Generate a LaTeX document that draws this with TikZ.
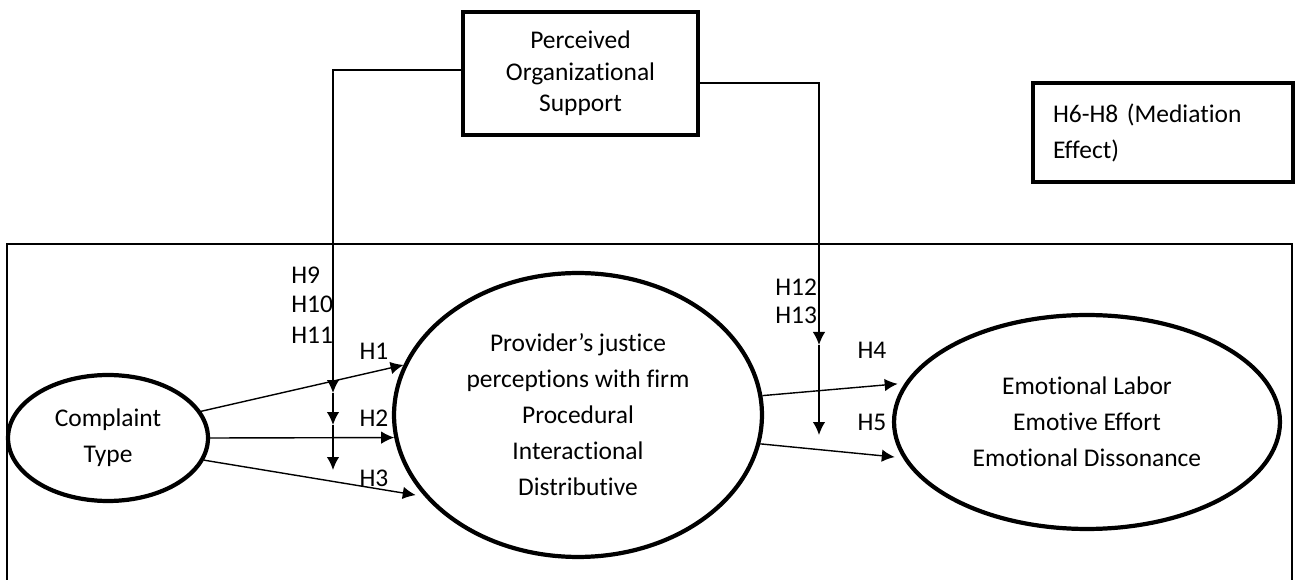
\documentclass[tikz,border=0pt]{standalone}
\usepackage{fontspec}
\setmainfont[Ligatures=NoCommon]{Carlito}
\usetikzlibrary{arrows.meta, shapes}
\tikzset{>={Latex[length=2.6mm,width=2.5mm]}}

\begin{document}
\begin{tikzpicture}[x=0.02cm, y=-0.02cm, font=\fontsize{14.5}{20.5}\selectfont,
  cons/.style={draw, ellipse, line width=2.4pt, inner sep=0pt, align=center},
  boxed/.style={draw, rectangle, line width=2.6pt, inner sep=0pt},
  link/.style={line width=0.8pt, ->},
  hyp/.style={inner sep=0pt}]
\useasboundingbox (0,0) rectangle (1298,580);
\draw[line width=1pt] (7,590) -- (7,244) -- (1292,244) -- (1292,590);

\node[cons, minimum width=4cm, minimum height=2.52cm] (ct) at (108,438) {Complaint\\Type};
\node[cons, minimum width=7.36cm, minimum height=5.68cm] (pj) at (578,415) {Provider’s justice\\perceptions with firm\\Procedural\\Interactional\\Distributive};
\node[cons, minimum width=7.72cm, minimum height=4.28cm] (el) at (1087,422) {Emotional Labor\\Emotive Effort\\Emotional Dissonance};
\node[boxed, minimum width=4.7cm, minimum height=2.46cm, align=center, font=\fontsize{14.5}{18}\selectfont] (pos) at (580.5,73.5) {Perceived\\Organizational\\Support};
\node[boxed, minimum width=5.2cm, minimum height=1.98cm, text width=4.4cm, align=left] (med) at (1163,132.5) {H6-H8 (Mediation\\Effect)};

\node[hyp, anchor=west] (h9) at (291,275) {H9};
\node[hyp, anchor=west] (h10) at (291,304) {H10};
\node[hyp, anchor=west] (h11) at (291,335) {H11};
\node[hyp, anchor=west] (h12) at (775,287) {H12};
\node[hyp, anchor=west] (h13) at (775,315) {H13};
\node[hyp] (h1) at (374,351) {H1};
\node[hyp] (h2) at (374,418) {H2};
\node[hyp] (h3) at (374,478) {H3};
\node[hyp] (h4) at (872,350) {H4};
\node[hyp] (h5) at (872,422) {H5};

\draw[link] (ct.16) -- (pj.164);
\draw[link] (ct.east) -- (pj.187);
\draw[link, shorten >=0.18cm] (ct.-13) -- (pj.208);
\draw[link, shorten >=0.14cm] (pj.6) -- (el.168);
\draw[link, shorten >=0.16cm] (pj.-9) -- (el.191);

\coordinate (a1) at (333,393);
\coordinate (a2) at (333,425);
\coordinate (a3) at (333,470);
\draw[link] ([yshift=0.07cm]pos.west) -| (a1);
\draw[link] (a1) -- (a2);
\draw[link] (a2) -- (a3);

\coordinate (b1) at (819,345);
\coordinate (b2) at (819,435);
\draw[link] ([yshift=-0.19cm]pos.east) -| (b1);
\draw[link] (b1) -- (b2);
\end{tikzpicture}
\end{document}
